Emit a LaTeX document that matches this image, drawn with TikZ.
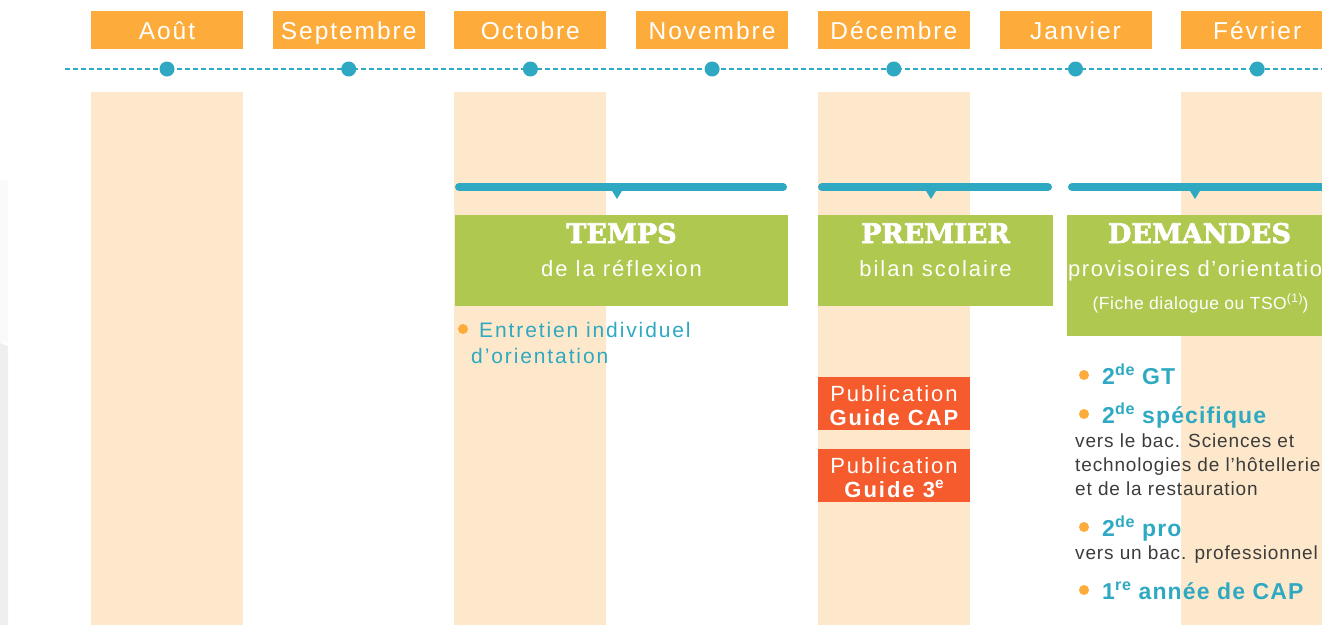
\documentclass[tikz,border=0pt]{standalone}
\usepackage{fontspec}
\setmainfont{Liberation Sans}
\newfontfamily\lsMonth{Liberation Sans}[LetterSpace=8]
\newfontfamily\lsBody{Liberation Sans}[LetterSpace=9]
\newfontfamily\lsBodyB{Liberation Sans}[LetterSpace=7]
\newfontfamily\lsSmall{Liberation Sans}[LetterSpace=3]
\newfontfamily\lsItem{Liberation Sans}[LetterSpace=5]
\newfontfamily\lsGrey{Liberation Sans}[LetterSpace=4.5]
\newfontfamily\titlefont{DejaVu Serif}[FakeBold=2.5]
\definecolor{morange}{HTML}{FDAC3B}
\definecolor{mteal}{HTML}{2EA9C1}
\definecolor{mpeach}{HTML}{FEE8CB}
\definecolor{mgreen}{HTML}{AFC850}
\definecolor{mred}{HTML}{F55B2D}
\definecolor{mgrey}{HTML}{3C3C3B}
\definecolor{edgeA}{HTML}{FAFAFA}
\definecolor{edgeB}{HTML}{F0EFED}
\newcommand\mysup[1]{\raisebox{0.38em}{\scalebox{0.7}{#1}}}
\begin{document}
\begin{tikzpicture}[x=1pt,y=-1pt,
  month/.style={fill=morange, text=white, minimum width=152pt, minimum height=38pt,
    inner sep=0pt, text height=18pt, text depth=0pt, font=\lsMonth\fontsize{24.5}{26}\selectfont},
  dot/.style={circle, fill=mteal, minimum size=15pt, inner sep=0pt},
  bar/.style={draw=mteal, line width=8pt, line cap=round},
  gbox/.style={fill=mgreen, inner sep=0pt, anchor=north west},
  ttl/.style={text=white, inner sep=0pt, anchor=base, font=\titlefont\bfseries\fontsize{27}{29}\selectfont},
  subt/.style={text=white, inner sep=0pt, anchor=base, font=\lsBody\fontsize{22}{24}\selectfont},
  small/.style={text=white, inner sep=0pt, anchor=base, font=\lsSmall\fontsize{17.5}{19}\selectfont},
  pbox/.style={fill=mred, inner sep=0pt, anchor=north west, minimum width=152pt, minimum height=53pt},
  ptxt/.style={text=white, inner sep=0pt, anchor=base, font=\lsBody\fontsize{22}{24}\selectfont},
  bullet/.style={circle, fill=morange, minimum size=10pt, inner sep=0pt},
  entry/.style={text=mteal, inner sep=0pt, anchor=base west, font=\lsBody\fontsize{21}{23}\selectfont},
  item/.style={text=mteal, inner sep=0pt, anchor=base west, font=\lsItem\bfseries\fontsize{23}{25}\selectfont},
  gtxt/.style={text=mgrey, inner sep=0pt, anchor=base west, font=\lsGrey\fontsize{19}{21}\selectfont}
]
\useasboundingbox (0,0) rectangle (1322,625);
\clip (0,0) rectangle (1322,625);

% faint edge at left
\fill[edgeA] (0,180) rectangle (8,343);
\fill[edgeB] (0,343) -- (8,346) -- (8,625) -- (0,625) -- cycle;

% peach columns
\fill[mpeach] (91,92) rectangle (243,625);
\fill[mpeach] (454.4,92) rectangle (606.4,625);
\fill[mpeach] (817.8,92) rectangle (969.8,625);
\fill[mpeach] (1181.2,92) rectangle (1333.2,625);

% months
\node[month] (aout) at (167,30) {Août};
\node[month] (sept) at (348.7,30) {Septembre};
\node[month] (oct) at (530.4,30) {Octobre};
\node[month] (nov) at (712.1,30) {Novembre};
\node[month] (dec) at (893.8,30) {Décembre};
\node[month] (jan) at (1075.5,30) {Janvier};
\node[month] (fev) at (1257.2,30) {Février};

% timeline
\draw[mteal, line width=1.3pt, dash pattern=on 5pt off 3pt] (65,69) -- (1330,69);
\node[dot] (d1) at (167,69) {};
\node[dot] (d2) at (348.7,69) {};
\node[dot] (d3) at (530.4,69) {};
\node[dot] (d4) at (712.1,69) {};
\node[dot] (d5) at (893.8,69) {};
\node[dot] (d6) at (1075.5,69) {};
\node[dot] (d7) at (1257.2,69) {};

% brackets
\draw[bar] (459,187) -- (783,187);
\fill[mteal] (611.5,190) -- (622.5,190) -- (617,199) -- cycle;
\draw[bar] (822,187) -- (1048,187);
\fill[mteal] (925.5,190) -- (936.5,190) -- (931,199) -- cycle;
\draw[bar] (1072,187) -- (1400,187);
\fill[mteal] (1189.5,190) -- (1200.5,190) -- (1195,199) -- cycle;

% green boxes
\node[gbox, minimum width=333pt, minimum height=91pt] (temps) at (455,215) {};
\node[ttl] (tempsT) at (621.5,243) {TEMPS};
\node[subt] (tempsS) at (621.5,276) {de la réflexion};

\node[gbox, minimum width=235pt, minimum height=91pt] (prem) at (818,215) {};
\node[ttl] (premT) at (935.5,243) {PREMIER};
\node[subt] (premS) at (935.5,276) {bilan scolaire};

\node[gbox, minimum width=280pt, minimum height=121pt] (dem) at (1067,215) {};
\node[ttl] (demT) at (1199.5,243) {DEMANDES};
\node[subt, anchor=base west, font=\lsBodyB\fontsize{22}{24}\selectfont] (demS) at (1068,276) {provisoires d’orientation};
\node[small] (demF) at (1200.5,309) {(Fiche dialogue ou TSO\mysup{(1)})};

% entretien
\node[bullet] (b0) at (463,329) {};
\node[entry] (ent1) at (479,337) {Entretien individuel};
\node[entry] (ent2) at (471,363) {d’orientation};

% publications
\node[pbox] (pub1) at (818,377) {};
\node[ptxt] (pub1a) at (894,401) {Publication};
\node[ptxt] (pub1b) at (894,425) {\bfseries Guide CAP};
\node[pbox] (pub2) at (818,449) {};
\node[ptxt] (pub2a) at (894,473) {Publication};
\node[ptxt] (pub2b) at (894,497) {\bfseries Guide 3\mysup{e}};

% orientation choices
\node[bullet] (b1) at (1084,375) {};
\node[item] (i1) at (1102,384) {2\mysup{de} GT};
\node[bullet] (b2) at (1084,414) {};
\node[item] (i2) at (1102,423) {2\mysup{de} spécifique};
\node[gtxt] (g1) at (1075,447) {vers le bac. Sciences et};
\node[gtxt] (g2) at (1075,471) {technologies de l’hôtellerie};
\node[gtxt] (g3) at (1075,495) {et de la restauration};
\node[bullet] (b3) at (1084,527) {};
\node[item] (i3) at (1102,536) {2\mysup{de} pro};
\node[gtxt] (g4) at (1075,559) {vers un bac. professionnel};
\node[bullet] (b4) at (1084,590) {};
\node[item] (i4) at (1102,599) {1\mysup{re} année de CAP};
\end{tikzpicture}
\end{document}
